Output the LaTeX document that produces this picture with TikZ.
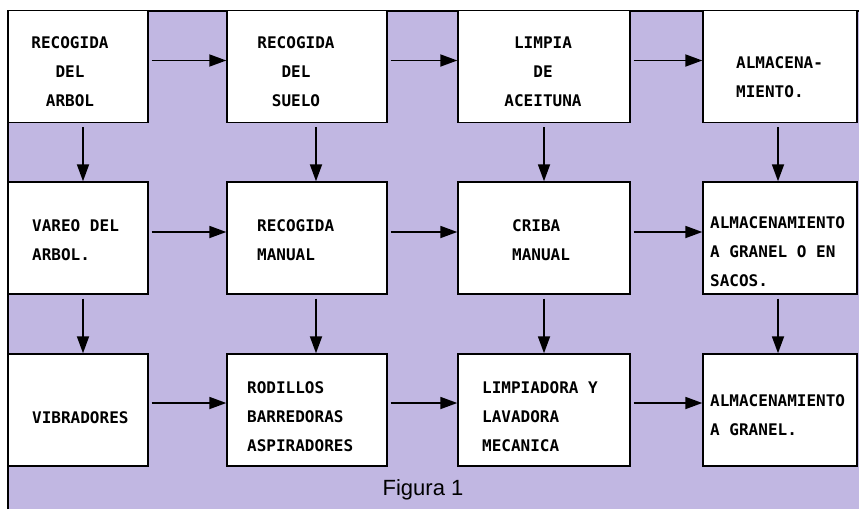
\documentclass[tikz,border=0pt]{standalone}
\usepackage{fontspec}
\setmonofont{DejaVu Sans Mono}
\setsansfont{Liberation Sans}
\usepackage{xcolor}
\usepackage{tikz}
\usetikzlibrary{arrows.meta,positioning,calc}

\definecolor{fondo}{RGB}{193,183,226}

\begin{document}
\begin{tikzpicture}[x=1pt,y=-1pt,
        caja/.style={draw, fill=white, line width=1.4pt, minimum height=112pt, inner sep=0pt},
        texto/.style={inner sep=0pt, font=\ttfamily\bfseries\fontsize{16}{29}\selectfont},
        flecha/.style={line width=1.8pt, -{Triangle[length=17pt,width=12pt]}}]
        \useasboundingbox (0,0) rectangle (859,509);

        % Background and frame
        \fill[fondo] (8,11) rectangle (859,509);
        \draw[line width=1.3pt] (8,509) -- (8,11) -- (859,11);

        % Boxes
        \node[caja, minimum width=140pt] (c11) at (78,66.5) {};
        \node[caja, minimum width=160pt] (c12) at (307,66.5) {};
        \node[caja, minimum width=172pt] (c13) at (544,66.5) {};
        \node[caja, minimum width=154pt] (c14) at (780,66.5) {};

        \node[caja, minimum width=140pt] (c21) at (78,238) {};
        \node[caja, minimum width=160pt] (c22) at (307,238) {};
        \node[caja, minimum width=172pt] (c23) at (544,238) {};
        \node[caja, minimum width=154pt] (c24) at (780,238) {};

        \node[caja, minimum width=140pt] (c31) at (78,410) {};
        \node[caja, minimum width=160pt] (c32) at (307,410) {};
        \node[caja, minimum width=172pt] (c33) at (544,410) {};
        \node[caja, minimum width=154pt] (c34) at (780,410) {};

        % Box texts
        \node[texto, align=center] (t11) at (70,72) {RECOGIDA\\DEL\\ARBOL};
        \node[texto, align=center] (t12) at (296,72) {RECOGIDA\\DEL\\SUELO};
        \node[texto, align=center] (t13) at (543,72) {LIMPIA\\DE\\ACEITUNA};
        \node[texto, align=left, anchor=west] (t14) at (736,77) {ALMACENA-\\MIENTO.};

        \node[texto, align=left, anchor=west] (t21) at (32,240) {VAREO DEL\\ARBOL.};
        \node[texto, align=left, anchor=west] (t22) at (257,240) {RECOGIDA\\MANUAL};
        \node[texto, align=left, anchor=west] (t23) at (512,240) {CRIBA\\MANUAL};
        \node[texto, align=left, anchor=west] (t24) at (710,252) {ALMACENAMIENTO\\A GRANEL O EN\\SACOS.};

        \node[texto, anchor=west] (t31) at (32,418) {VIBRADORES};
        \node[texto, align=left, anchor=west] (t32) at (247,417) {RODILLOS\\BARREDORAS\\ASPIRADORES};
        \node[texto, align=left, anchor=west] (t33) at (482,417) {LIMPIADORA Y\\LAVADORA\\MECANICA};
        \node[texto, align=left, anchor=west] (t34) at (710,415) {ALMACENAMIENTO\\A GRANEL.};

        % Horizontal arrows
        \draw[flecha, shorten <=3pt] ([yshift=6pt]c11.east) -- ([yshift=6pt]c12.west);
        \draw[flecha, shorten <=3pt] ([yshift=6pt]c12.east) -- ([yshift=6pt]c13.west);
        \draw[flecha, shorten <=3pt] ([yshift=6pt]c13.east) -- ([yshift=6pt]c14.west);
        \draw[flecha, shorten <=3pt] ([yshift=6pt]c21.east) -- ([yshift=6pt]c22.west);
        \draw[flecha, shorten <=3pt] ([yshift=6pt]c22.east) -- ([yshift=6pt]c23.west);
        \draw[flecha, shorten <=3pt] ([yshift=6pt]c23.east) -- ([yshift=6pt]c24.west);
        \draw[flecha, shorten <=3pt] ([yshift=7pt]c31.east) -- ([yshift=7pt]c32.west);
        \draw[flecha, shorten <=3pt] ([yshift=7pt]c32.east) -- ([yshift=7pt]c33.west);
        \draw[flecha, shorten <=3pt] ([yshift=7pt]c33.east) -- ([yshift=7pt]c34.west);

        % Vertical arrows
        \draw[flecha, shorten <=4pt] ([xshift=5pt]c11.south) -- ([xshift=5pt]c21.north);
        \draw[flecha, shorten <=4pt] ([xshift=9pt]c12.south) -- ([xshift=9pt]c22.north);
        \draw[flecha, shorten <=4pt] (c13.south) -- (c23.north);
        \draw[flecha, shorten <=4pt] ([xshift=-2pt]c14.south) -- ([xshift=-2pt]c24.north);
        \draw[flecha, shorten <=4pt] ([xshift=5pt]c21.south) -- ([xshift=5pt]c31.north);
        \draw[flecha, shorten <=4pt] ([xshift=9pt]c22.south) -- ([xshift=9pt]c32.north);
        \draw[flecha, shorten <=4pt] (c23.south) -- (c33.north);
        \draw[flecha, shorten <=4pt] ([xshift=-2pt]c24.south) -- ([xshift=-2pt]c34.north);

        % Caption
        \node[font=\sffamily\fontsize{22}{26}\selectfont] (fig) at (423,490) {Figura 1};
    \end{tikzpicture}
\end{document}
